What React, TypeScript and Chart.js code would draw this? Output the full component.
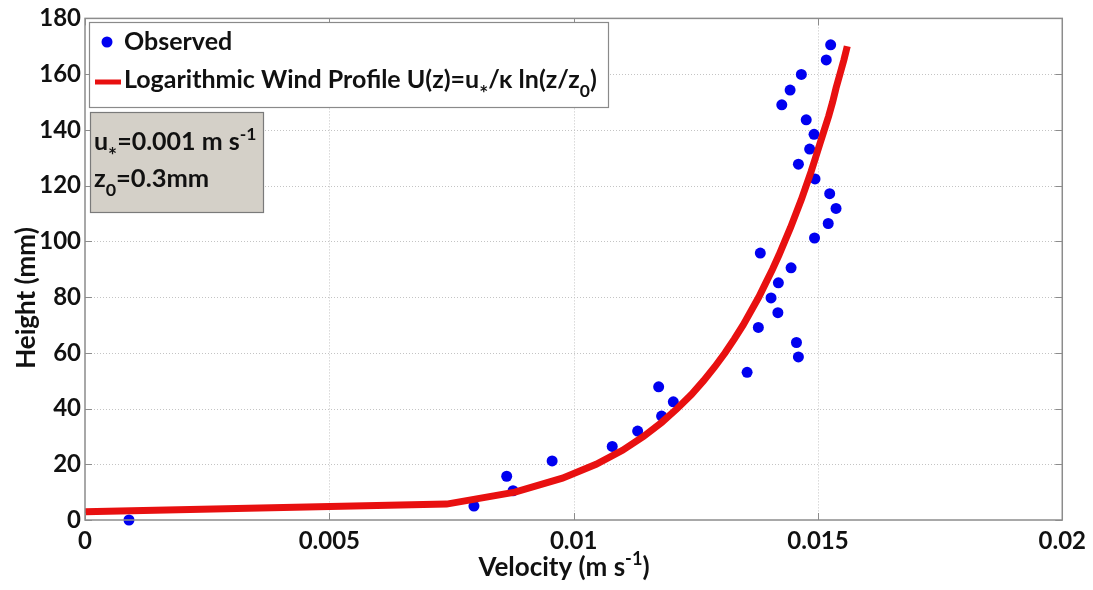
import { useEffect, useRef } from 'react';
import { Chart, registerables } from 'chart.js';

Chart.register(...registerables);

// Observed wind velocities (m/s) at each measurement height (mm)
const OBS_VELOCITY = [
  0.0009, 0.00796, 0.00876, 0.00863, 0.00956, 0.01079, 0.01131, 0.0118, 0.01204,
  0.01174, 0.01355, 0.0146, 0.01456, 0.01378, 0.01418, 0.01404, 0.01419, 0.01445,
  0.01382, 0.01493, 0.01521, 0.01537, 0.01524, 0.01494, 0.0146, 0.01483, 0.01492,
  0.01476, 0.01426, 0.01443, 0.01466, 0.01517, 0.01526,
];
const OBS_HEIGHT = [
  0, 5.0, 10.5, 15.7, 21.2, 26.4, 31.9, 37.3, 42.4, 47.8, 53.0, 58.5, 63.7, 69.1,
  74.4, 79.7, 85.1, 90.5, 95.8, 101.2, 106.4, 111.8, 117.1, 122.4, 127.7, 133.1,
  138.4, 143.6, 149.0, 154.3, 159.9, 165.1, 170.5,
];

// Logarithmic wind profile curve
const PROFILE_VELOCITY = [
  0, 0.0074, 0.0088, 0.00977, 0.01046, 0.011, 0.01143, 0.0118, 0.01212, 0.01241,
  0.01266, 0.01289, 0.0131, 0.01329, 0.01347, 0.01363, 0.01379, 0.01393, 0.01407,
  0.0142, 0.01432, 0.01444, 0.01455, 0.01466, 0.01476, 0.01486, 0.01495, 0.01504,
  0.01513, 0.01522, 0.0153, 0.01537, 0.01545, 0.01553, 0.0156,
];
const PROFILE_HEIGHT = [
  3, 5.7, 10, 15, 20, 25, 30, 35, 40, 45, 50, 55, 60, 65, 70, 75, 80, 85, 90, 95,
  100, 105, 110, 115, 120, 125, 130, 135, 140, 145, 150, 155, 160, 165, 170,
];

const X_TICKS = [0, 0.005, 0.01, 0.015, 0.02];
const X_TICK_LABELS = ['0', '0.005', '0.01', '0.015', '0.02'];
const Y_TICKS = [0, 20, 40, 60, 80, 100, 120, 140, 160, 180];
const Y_TICK_LABELS = ['0', '20', '40', '60', '80', '100', '120', '140', '160', '180'];

const FONT = 'Lato, "Open Sans", sans-serif';
const TEXT = '#111111';
const AXIS = '#8c8c8c';
const GRID = '#c4c4c4';
const BLUE = '#0000f0';
const RED = '#e81010';

type Seg = { t: string; k?: 'sub' | 'sup' | 'star' };

function drawRich(ctx: CanvasRenderingContext2D, segs: Seg[], x: number, y: number, size: number, draw = true) {
  let cx = x;
  for (const s of segs) {
    const fs = s.k === 'star' ? size * 0.85 : s.k ? size * 0.7 : size;
    const dy =
      s.k === 'sub' ? size * 0.36 : s.k === 'star' ? size * 0.5 : s.k === 'sup' ? -size * 0.42 : 0;
    ctx.font = `bold ${fs}px ${FONT}`;
    if (draw) ctx.fillText(s.t, cx, y + dy);
    cx += ctx.measureText(s.t).width;
  }
  return cx - x;
}

const decorPlugin = {
  id: 'decor',
  beforeDatasetsDraw(chart: any) {
    const ctx: CanvasRenderingContext2D = chart.ctx;
    const { left, right, top, bottom } = chart.chartArea;
    const xs = chart.scales.x;
    const ys = chart.scales.y;
    ctx.save();
    ctx.strokeStyle = GRID;
    ctx.lineWidth = 1;
    ctx.setLineDash([1, 2]);
    X_TICKS.forEach((v) => {
      const px = Math.round(xs.getPixelForValue(v)) + 0.5;
      if (px <= left + 1 || px >= right - 1) return;
      ctx.beginPath();
      ctx.moveTo(px, top);
      ctx.lineTo(px, bottom);
      ctx.stroke();
    });
    Y_TICKS.forEach((v) => {
      const py = Math.round(ys.getPixelForValue(v)) + 0.5;
      if (py <= top + 1 || py >= bottom - 1) return;
      ctx.beginPath();
      ctx.moveTo(left, py);
      ctx.lineTo(right, py);
      ctx.stroke();
    });
    ctx.restore();
  },
  afterDraw(chart: any) {
    const ctx: CanvasRenderingContext2D = chart.ctx;
    const { left, right, top, bottom } = chart.chartArea;
    const xs = chart.scales.x;
    const ys = chart.scales.y;
    ctx.save();

    // Axes frame with inward tick marks
    ctx.strokeStyle = AXIS;
    ctx.lineWidth = 1.5;
    ctx.setLineDash([]);
    ctx.strokeRect(left, top, right - left, bottom - top);
    ctx.lineWidth = 1;
    X_TICKS.forEach((v) => {
      const px = Math.round(xs.getPixelForValue(v)) + 0.5;
      ctx.beginPath();
      ctx.moveTo(px, bottom);
      ctx.lineTo(px, bottom - 7);
      ctx.moveTo(px, top);
      ctx.lineTo(px, top + 7);
      ctx.stroke();
    });
    Y_TICKS.forEach((v) => {
      const py = Math.round(ys.getPixelForValue(v)) + 0.5;
      ctx.beginPath();
      ctx.moveTo(left, py);
      ctx.lineTo(left + 7, py);
      ctx.moveTo(right, py);
      ctx.lineTo(right - 7, py);
      ctx.stroke();
    });

    // Legend
    ctx.fillStyle = '#ffffff';
    ctx.fillRect(89.5, 22.5, 519, 85);
    ctx.strokeStyle = '#8a8a8a';
    ctx.lineWidth = 1.2;
    ctx.strokeRect(89.5, 22.5, 519, 85);
    ctx.fillStyle = BLUE;
    ctx.beginPath();
    ctx.arc(107, 42, 5.5, 0, Math.PI * 2);
    ctx.fill();
    ctx.strokeStyle = RED;
    ctx.lineWidth = 5;
    ctx.beginPath();
    ctx.moveTo(95, 82);
    ctx.lineTo(121, 82);
    ctx.stroke();
    ctx.fillStyle = TEXT;
    ctx.textAlign = 'left';
    ctx.textBaseline = 'alphabetic';
    drawRich(ctx, [{ t: 'Observed' }], 124, 50, 25);
    drawRich(
      ctx,
      [
        { t: 'Logarithmic Wind Profile U(z)=u' },
        { t: '*', k: 'star' },
        { t: '/\u03BA ln(z/z' },
        { t: '0', k: 'sub' },
        { t: ')' },
      ],
      124,
      88,
      25,
    );

    // Parameter box
    ctx.fillStyle = '#d4d0c8';
    ctx.fillRect(90.5, 112.5, 173, 100);
    ctx.strokeStyle = '#7a7a7a';
    ctx.lineWidth = 1.2;
    ctx.strokeRect(90.5, 112.5, 173, 100);
    ctx.fillStyle = TEXT;
    drawRich(
      ctx,
      [{ t: 'u' }, { t: '*', k: 'star' }, { t: '=0.001 m s' }, { t: '-1', k: 'sup' }],
      94,
      150,
      25,
    );
    drawRich(ctx, [{ t: 'z' }, { t: '0', k: 'sub' }, { t: '=0.3mm' }], 94, 187, 25.5);

    // Axis titles
    const xTitle: Seg[] = [{ t: 'Velocity (m s' }, { t: '-1', k: 'sup' }, { t: ')' }];
    const w = drawRich(ctx, xTitle, 0, 0, 26, false);
    drawRich(ctx, xTitle, 564 - w / 2, 576, 26);

    ctx.translate(27, 298);
    ctx.rotate(-Math.PI / 2);
    ctx.font = `bold 26px ${FONT}`;
    ctx.textAlign = 'center';
    ctx.textBaseline = 'middle';
    ctx.fillText('Height (mm)', 0, 0);

    ctx.restore();
  },
};

export default function App() {
  const canvasRef = useRef<HTMLCanvasElement>(null);

  useEffect(() => {
    const canvas = canvasRef.current;
    if (!canvas) return;
    const chart = new Chart(canvas, {
      type: 'scatter',
      data: {
        datasets: [
          {
            label: 'Logarithmic Wind Profile',
            data: PROFILE_VELOCITY.map((v, i) => ({ x: v, y: PROFILE_HEIGHT[i] })),
            showLine: true,
            borderColor: RED,
            backgroundColor: RED,
            borderWidth: 7,
            pointRadius: 0,
            tension: 0,
          },
          {
            label: 'Observed',
            data: OBS_VELOCITY.map((v, i) => ({ x: v, y: OBS_HEIGHT[i] })),
            showLine: false,
            backgroundColor: BLUE,
            borderColor: BLUE,
            pointRadius: 5.5,
            pointBorderWidth: 0,
          },
        ],
      },
      options: {
        responsive: false,
        animation: false,
        devicePixelRatio: 1,
        clip: false,
        layout: { padding: { left: 0, right: 30, top: 17, bottom: 0 } },
        plugins: { legend: { display: false }, tooltip: { enabled: false } },
        scales: {
          x: {
            type: 'linear',
            min: 0,
            max: 0.02,
            afterBuildTicks: (s: any) => {
              s.ticks = X_TICKS.map((v) => ({ value: v }));
            },
            afterFit: (s: any) => {
              s.height = 70;
            },
            ticks: {
              autoSkip: false,
              maxRotation: 0,
              padding: 7,
              color: TEXT,
              font: { family: FONT, size: 24, weight: 'bold' },
              callback: (_v: any, i: number) => X_TICK_LABELS[i],
            },
            grid: { display: false, drawTicks: false },
            border: { display: false },
          },
          y: {
            type: 'linear',
            min: 0,
            max: 180,
            afterBuildTicks: (s: any) => {
              s.ticks = Y_TICKS.map((v) => ({ value: v }));
            },
            afterFit: (s: any) => {
              s.width = 85;
            },
            ticks: {
              autoSkip: false,
              padding: 4,
              color: TEXT,
              font: { family: FONT, size: 24, weight: 'bold' },
              callback: (_v: any, i: number) => Y_TICK_LABELS[i],
            },
            grid: { display: false, drawTicks: false },
            border: { display: false },
          },
        },
      },
      plugins: [decorPlugin],
    } as any);
    return () => chart.destroy();
  }, []);

  return (
    <div style={{ position: 'absolute', left: 0, top: 0, width: 1093, height: 590, background: '#ffffff' }}>
      <canvas ref={canvasRef} width={1093} height={590} style={{ display: 'block' }} />
    </div>
  );
}
